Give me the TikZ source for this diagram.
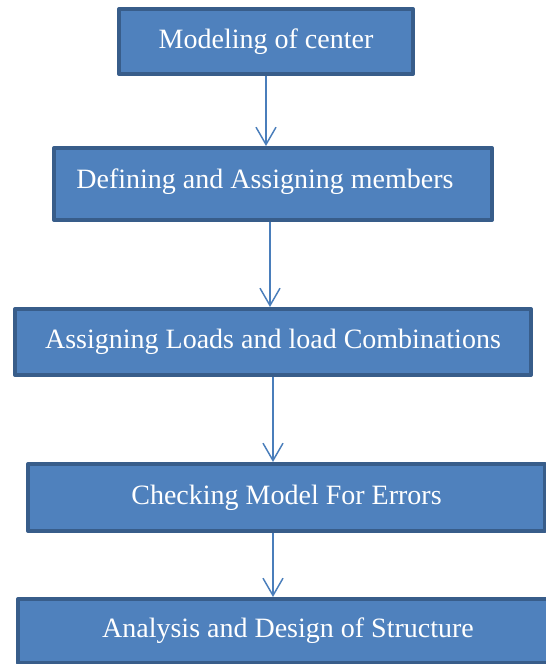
\documentclass[tikz,border=0pt]{standalone}
\usepackage{fontspec}
\setmainfont{Liberation Serif}
\usetikzlibrary{arrows.meta}
\definecolor{boxfill}{HTML}{4F81BD}
\definecolor{boxline}{HTML}{385D8A}
\definecolor{arrline}{HTML}{4A7EBB}
\begin{document}
\begin{tikzpicture}[x=0.75pt,y=-0.75pt,line join=round,>={Straight Barb[length=13pt,width=15pt]}]
	\tikzset{stepbox/.style={draw=boxline,fill=boxfill,line width=3pt,text=white,inner sep=0pt,font=\fontsize{21}{25}\selectfont},
		flow/.style={->,draw=arrline,line width=1.1pt}}
	\useasboundingbox (0,0) rectangle (546,664);
	\node[stepbox,minimum width=220.5pt,minimum height=48.75pt] (n1) at (266,41.5) {Modeling of center};
	\node[stepbox,minimum width=328.5pt,minimum height=54pt,
		label={[text=white,font=\fontsize{21}{25}\selectfont,xshift=-6pt,yshift=2pt]center:Defining and Assigning members}] (n2) at (273,184) {};
	\node[stepbox,minimum width=387pt,minimum height=49.5pt] (n3) at (273,342) {Assigning Loads and load Combinations};
	\node[stepbox,minimum width=387.75pt,minimum height=50.25pt] (n4) at (286.5,497.5) {Checking Model For Errors};
	\node[stepbox,minimum width=405pt,minimum height=48pt] (n5) at (288,631) {Analysis and Design of Structure};
	\draw[flow] (n1.south) -- (n1.south |- n2.north);
	\draw[flow] ([xshift=-2.25pt]n2.south) -- ([xshift=-2.25pt]n3.north);
	\draw[flow] (n3.south) -- (n3.south |- n4.north);
	\draw[flow] (n3.south |- n4.south) -- (n3.south |- n5.north);
\end{tikzpicture}
\end{document}
